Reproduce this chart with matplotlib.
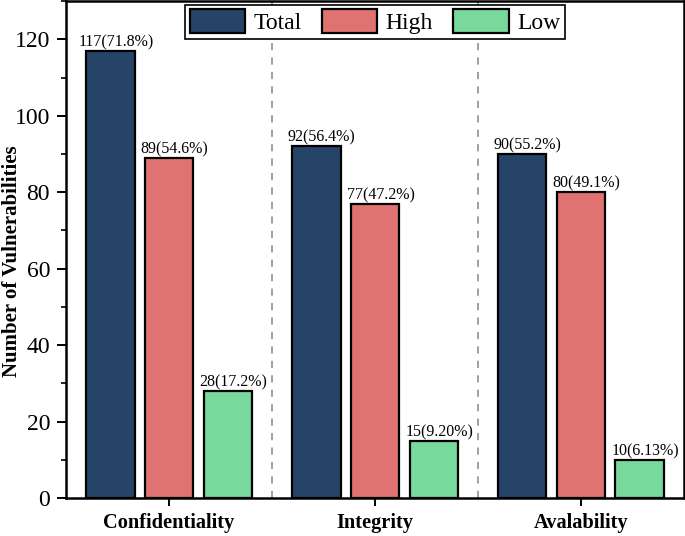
import numpy as np
import matplotlib
matplotlib.use('Agg')
import matplotlib.pyplot as plt
from matplotlib.ticker import MultipleLocator

# 数据
categories = ['Confidentiality', 'Integrity', 'Avalability']
series_names = ['Total', 'High', 'Low']
total_vals = [117, 92, 90]
high_vals = [89, 77, 80]
low_vals = [28, 15, 10]
total_pct = ['71.8', '56.4', '55.2']
high_pct = ['54.6', '47.2', '49.1']
low_pct = ['17.2', '9.20', '6.13']

colors = ['#264468', '#E07272', '#79D89B']

plt.rcParams['font.family'] = ['Liberation Serif', 'DejaVu Serif']

fig = plt.figure(figsize=(6.85, 5.36), dpi=100)
ax = fig.add_axes([0.0964, 0.0709, 0.9021, 0.927])

x = np.arange(1, len(categories) + 1)
width = 0.235
offset = 0.285

all_vals = [total_vals, high_vals, low_vals]
all_pct = [total_pct, high_pct, low_pct]
for i, (vals, pcts) in enumerate(zip(all_vals, all_pct)):
    pos = x + (i - 1) * offset
    bars = ax.bar(pos, vals, width, color=colors[i], edgecolor='black',
                  linewidth=1.6, label=series_names[i], zorder=3)
    for b, v, p in zip(bars, vals, pcts):
        ax.annotate(f'{v}({p}%)', (b.get_x() + b.get_width() / 2, v),
                    xytext=(4, 0.5), textcoords='offset points',
                    ha='center', va='bottom', fontsize=11.5)

# 分隔虚线
for xv in [1.5, 2.5]:
    ax.axvline(xv, color='#999999', linestyle=(0, (4, 4)), linewidth=1.3, zorder=1)

ax.set_xlim(0.5, 3.5)
ax.set_ylim(0, 130)
ax.set_xticks(x)
ax.set_xticklabels(categories, fontsize=14.7, fontweight='bold')
ax.yaxis.set_major_locator(MultipleLocator(20))
ax.yaxis.set_minor_locator(MultipleLocator(10))
ax.tick_params(axis='y', which='major', direction='out', length=6.5, width=1.4,
               labelsize=17, pad=5)
ax.tick_params(axis='y', which='minor', direction='out', length=3.6, width=1.2)
ax.tick_params(axis='x', which='major', direction='out', length=6, width=1.4, pad=5)
ax.set_ylabel('Number of Vulnerabilities', fontsize=15, fontweight='bold')
ax.yaxis.set_label_coords(-0.087, 0.477)
ax.yaxis.label.set_va('center')

for s in ax.spines.values():
    s.set_linewidth(1.8)

leg = ax.legend(loc='upper center', bbox_to_anchor=(0.5, 1.0), ncol=3, fontsize=17,
                handlelength=2.35, handleheight=1.15, handletextpad=0.35,
                columnspacing=0.85, borderpad=0.2, fancybox=False,
                edgecolor='black', framealpha=1, borderaxespad=0.15)
leg.get_frame().set_linewidth(1.2)

fig.savefig('out.png', dpi=100)
